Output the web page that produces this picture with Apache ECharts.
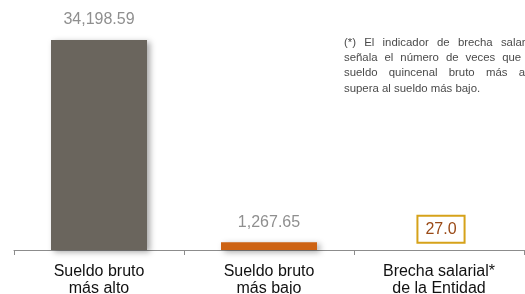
<!DOCTYPE html>
<html>
<head>
    <meta charset="utf-8" />
    <script src="https://cdn.jsdelivr.net/npm/echarts@6/dist/echarts.min.js"></script>
    <style>
    body { margin: 0; background: #fff; }
    #chart { width: 525px; height: 294px; }
    </style>
</head>
<body>
    <div id="chart"></div>
    <script>
    let categories = ['Sueldo bruto\nmás alto', 'Sueldo bruto\nmás bajo', 'Brecha salarial*\nde la Entidad'];
    let sueldos = [34198.59, 1267.65, null];
    let brecha = [null, null, 27.0];
    let nota = ['(*) El indicador de brecha salarial', 'señala el número de veces que el', 'sueldo quincenal bruto más alto', 'supera al sueldo más bajo.'];

    let barColors = ['#6a655d', '#cd6212'];

    // nota justificada: cada palabra como texto aparte
    let notaFont = '11.4px "Liberation Sans"';
    let notaLeft = 344, notaTop = 37, notaWidth = 193, notaLine = 15.3;
    let ctx = document.createElement('canvas').getContext('2d');
    ctx.font = notaFont;
    let notaGraphics = [];
    nota.forEach(function (line, li) {
        let words = line.split(' ');
        let widths = words.map(function (w) { return ctx.measureText(w).width; });
        let total = widths.reduce(function (a, b) { return a + b; }, 0);
        let last = li === nota.length - 1;
        let gap = last ? ctx.measureText(' ').width : (notaWidth - total) / (words.length - 1);
        let x = notaLeft;
        words.forEach(function (w, wi) {
            notaGraphics.push({
                type: 'text',
                x: x,
                y: notaTop + li * notaLine,
                style: { text: w, fill: '#4a4a4a', font: notaFont }
            });
            x += widths[wi] + gap;
        });
    });

    let chart = echarts.init(document.getElementById('chart'));
    chart.setOption({
        animation: false,
        grid: { left: 14, right: 1, top: 40, bottom: 44, outerBoundsMode: 'none' },
        xAxis: {
            type: 'category',
            data: categories,
            axisLine: { lineStyle: { color: '#8c8c8c', width: 1 } },
            axisTick: { show: true, length: 5, lineStyle: { color: '#8c8c8c' } },
            axisLabel: {
                color: '#111',
                fontFamily: 'Liberation Sans',
                fontSize: 16,
                lineHeight: 17,
                margin: 13,
                interval: 0
            }
        },
        yAxis: {
            type: 'value',
            min: 0,
            max: 34198.59,
            show: false,
            splitLine: { show: false }
        },
        series: [{
            type: 'bar',
            barWidth: 96,
            data: sueldos.map(function (v, i) {
                return { value: v, itemStyle: { color: barColors[i] } };
            }),
            itemStyle: {
                shadowColor: 'rgba(0,0,0,0.35)',
                shadowBlur: 6,
                shadowOffsetX: 3,
                shadowOffsetY: 2
            },
            label: {
                show: true,
                position: 'top',
                distance: 12,
                color: '#8f8f8f',
                fontFamily: 'Liberation Sans',
                fontSize: 16,
                formatter: function (p) {
                    return p.value.toLocaleString('en-US', { minimumFractionDigits: 2, maximumFractionDigits: 2 });
                }
            }
        }, {
            type: 'bar',
            barGap: '-100%',
            barWidth: 96,
            data: brecha,
            itemStyle: { color: 'rgba(0,0,0,0)' },
            label: {
                show: true,
                position: 'top',
                distance: 8,
                offset: [2, 0],
                color: '#9a4a17',
                fontFamily: 'Liberation Sans',
                fontSize: 16,
                borderColor: '#d6a21a',
                borderWidth: 2,
                backgroundColor: '#fff',
                padding: [5, 7, 4, 7],
                formatter: function (p) {
                    return p.value.toFixed(1);
                }
            }
        }],
        graphic: notaGraphics
    });
    </script>
</body>
</html>
